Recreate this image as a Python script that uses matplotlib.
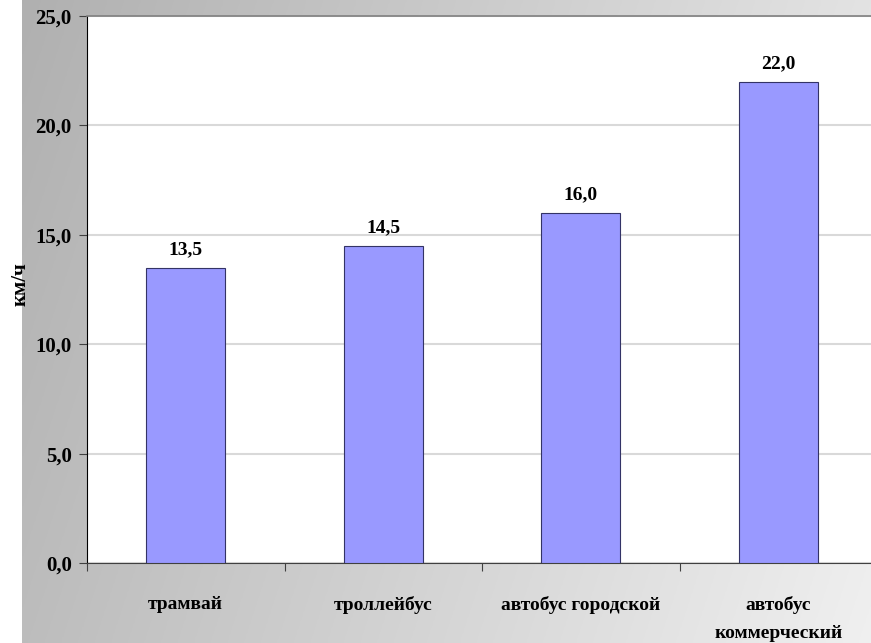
import numpy as np
import matplotlib
matplotlib.use("Agg")
import matplotlib.pyplot as plt

# data
categories = ["трамвай", "троллейбус", "автобус городской", "автобус\nкоммерческий"]
speeds = [13.5, 14.5, 16.0, 22.0]
y_ticks = [0, 5, 10, 15, 20, 25]

plt.rcParams["font.family"] = ["Liberation Serif", "DejaVu Serif"]
plt.rcParams["font.weight"] = "bold"

W, H = 871, 643
fig = plt.figure(figsize=(W / 100, H / 100), dpi=100, facecolor="white")

# gradient background (grey on the left, lighter to the right / bottom)
bg = fig.add_axes([22 / W, 0, 1 - 22 / W, 1])
xx, yy = np.meshgrid(np.linspace(0, 1, 300), np.linspace(0, 1, 200))
shade = 0.69 + 0.20 * xx + 0.05 * yy
bg.imshow(np.dstack([shade] * 3), aspect="auto", extent=[0, 1, 1, 0])
bg.axis("off")

# plot area
left, right, top, bottom = 87, 877, 16, 563
ax = fig.add_axes([left / W, 1 - bottom / H, (right - left) / W, (bottom - top) / H])
ax.set_facecolor("white")

x = np.arange(len(categories))
bars = ax.bar(x, speeds, width=0.4, color="#9999FF", edgecolor="#333366", linewidth=0.8, zorder=3)

for b, v in zip(bars, speeds):
    ax.annotate(f"{v:.1f}".replace(".", ","), (b.get_x() + b.get_width() / 2, v),
                xytext=(0, 7), textcoords="offset points", ha="center", va="bottom",
                fontsize=14, fontweight="bold")

ax.set_xlim(-0.5, len(categories) - 0.5)
ax.set_ylim(0, 25)
ax.set_yticks(y_ticks)
ax.set_yticklabels([f"{t:.1f}".replace(".", ",") for t in y_ticks], fontsize=15, fontweight="bold")
ax.yaxis.grid(True, color="#d9d9d9", linewidth=1.5, zorder=0)

ax.set_xticks(np.arange(len(categories) + 1) - 0.5)
ax.set_xticklabels([])
ax.set_xticks(x, minor=True)
ax.set_xticklabels(categories, minor=True, fontsize=14, fontweight="bold", linespacing=1.8)
ax.tick_params(axis="x", which="minor", length=0, pad=24)
ax.tick_params(axis="x", which="major", length=6, color="#404040", direction="out")
ax.tick_params(axis="y", length=6, color="#404040", direction="out", pad=5)

for lbl in ax.get_xticklabels(minor=True):
    lbl.set_verticalalignment("top")

ax.spines["right"].set_visible(False)
ax.spines["top"].set_color("#808080")
ax.spines["top"].set_linewidth(1.2)
ax.spines["left"].set_color("black")
ax.spines["bottom"].set_color("#404040")

fig.text(21 / W, 1 - 284 / H, "км/ч", rotation=90, ha="center", va="center",
         fontsize=15, fontweight="bold")

fig.savefig("out.png", dpi=100, facecolor="white")
